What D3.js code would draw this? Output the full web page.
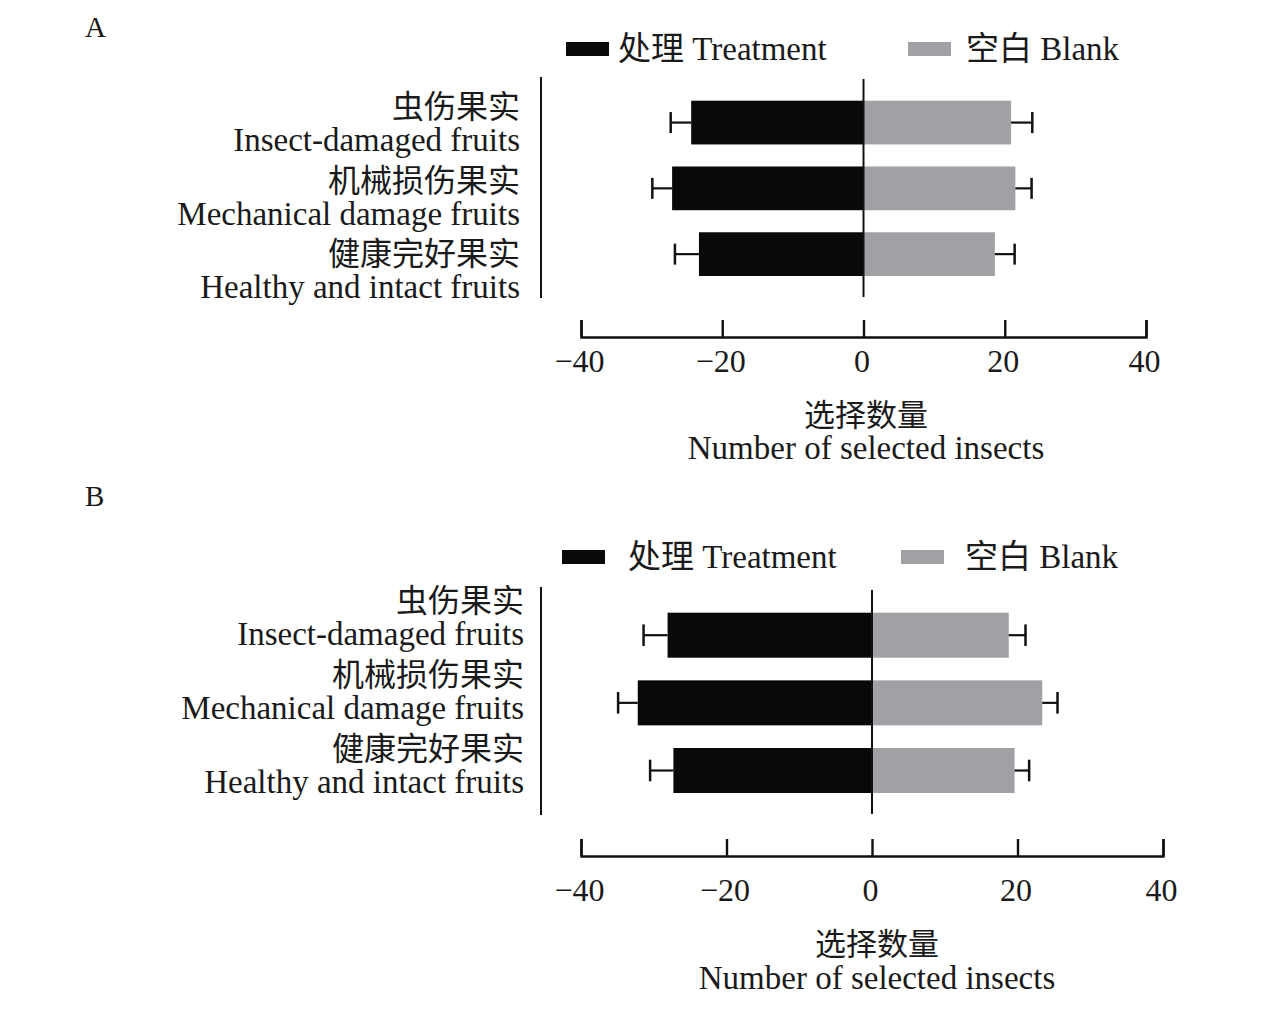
<!DOCTYPE html>
<html>
<head>
<meta charset="utf-8">
<script src="https://cdn.jsdelivr.net/npm/d3@7"></script>
<style>
  body { margin: 0; background: #fff; }
  svg text { font-family: "Liberation Serif", "Times New Roman", "Noto Sans CJK SC", serif; fill: #1a1a1a; }
</style>
</head>
<body>
<svg id="chart" width="1274" height="1010"></svg>
<script>
// categories (top to bottom)
var categoriesZh = ["虫伤果实", "机械损伤果实", "健康完好果实"];
var categoriesEn = ["Insect-damaged fruits", "Mechanical damage fruits", "Healthy and intact fruits"];
var xTicks = [-40, -20, 0, 20, 40];
var seriesNames = ["处理 Treatment", "空白 Blank"];

// panel A
var treatmentA = [-24.4, -27.1, -23.3];
var treatmentErrA = [2.9, 2.8, 3.4];
var blankA = [20.9, 21.5, 18.6];
var blankErrA = [3.0, 2.3, 2.8];

// panel B
var treatmentB = [-28.1, -32.2, -27.3];
var treatmentErrB = [3.3, 2.7, 3.2];
var blankB = [18.8, 23.4, 19.6];
var blankErrB = [2.3, 2.1, 2.0];

var colors = ["#0a0809", "#a2a0a4"];

var svg = d3.select("#chart");

function drawPanel(p) {
  var g = svg.append("g");

  var x = d3.scaleLinear().domain([-40, 40]).range([p.x0, p.x1]);
  var y = d3.scaleBand().domain(categoriesEn).range([p.barTop, p.barBottom]).paddingInner(0.335);
  var yLab = d3.scalePoint().domain(categoriesEn).range([p.labTop, p.labBottom]);

  // panel letter
  g.append("text").attr("x", 85).attr("y", p.letterY)
    .style("font-size", "29px").text(p.letter);

  // legend
  var leg = g.append("g");
  p.legend.forEach(function (l, i) {
    leg.append("rect").attr("x", l.rx).attr("y", p.legY - 8).attr("width", 43).attr("height", 14)
      .attr("fill", colors[i]);
    leg.append("text").attr("x", l.tx).attr("y", p.legY + 10)
      .style("font-size", "33px").text(seriesNames[i]);
  });

  // left line
  g.append("line").attr("x1", 541).attr("x2", 541).attr("y1", p.axTop).attr("y2", p.axBottom)
    .attr("stroke", "#111").attr("stroke-width", 2);

  var rows = categoriesEn.map(function (c, i) {
    return { cat: c, t: p.treat[i], te: p.treatErr[i], b: p.blank[i], be: p.blankErr[i] };
  });

  // bars
  g.selectAll(".tbar").data(rows).enter().append("rect")
    .attr("x", function (d) { return x(d.t); })
    .attr("y", function (d) { return y(d.cat); })
    .attr("width", function (d) { return x(0) - x(d.t); })
    .attr("height", y.bandwidth())
    .attr("fill", colors[0]);

  g.selectAll(".bbar").data(rows).enter().append("rect")
    .attr("x", x(0))
    .attr("y", function (d) { return y(d.cat); })
    .attr("width", function (d) { return x(d.b) - x(0); })
    .attr("height", y.bandwidth())
    .attr("fill", colors[1]);

  // error bars (outward only)
  var cap = y.bandwidth() * 0.24;
  rows.forEach(function (d) {
    var cy = y(d.cat) + y.bandwidth() / 2;
    [[d.t, d.t - d.te], [d.b, d.b + d.be]].forEach(function (e) {
      g.append("line").attr("x1", x(e[0])).attr("x2", x(e[1])).attr("y1", cy).attr("y2", cy)
        .attr("stroke", "#111").attr("stroke-width", 2.2);
      g.append("line").attr("x1", x(e[1])).attr("x2", x(e[1])).attr("y1", cy - cap).attr("y2", cy + cap)
        .attr("stroke", "#111").attr("stroke-width", 2.5);
    });
  });

  // zero line
  g.append("line").attr("x1", x(0)).attr("x2", x(0)).attr("y1", p.zeroTop).attr("y2", p.axBottom - 1)
    .attr("stroke", "#111").attr("stroke-width", 2);

  // category labels
  rows.forEach(function (d, i) {
    g.append("text").attr("x", p.labRight).attr("y", yLab(d.cat))
      .attr("text-anchor", "end").style("font-size", "32px").text(categoriesZh[i]);
    g.append("text").attr("x", p.labRight).attr("y", yLab(d.cat) + 33)
      .attr("text-anchor", "end").style("font-size", "33px").text(d.cat);
  });

  // x axis, ticks pointing up
  var ax = g.append("g").attr("transform", "translate(0," + p.axisY + ")")
    .call(d3.axisBottom(x).tickValues(xTicks).tickSize(-17).tickPadding(p.tickPad));
  ax.selectAll("path, line").attr("stroke", "#111").attr("stroke-width", 2.4);
  ax.selectAll("text").style("font-size", "32px")
    .style("font-family", '"Liberation Serif", serif').attr("fill", "#1a1a1a")
    .attr("dx", "-2");

  // axis title
  g.append("text").attr("x", p.titleX).attr("y", p.axisY + p.titleZhOff).attr("text-anchor", "middle")
    .style("font-size", "31px").text("选择数量");
  g.append("text").attr("x", p.titleX).attr("y", p.axisY + p.titleEnOff).attr("text-anchor", "middle")
    .style("font-size", "33px").text("Number of selected insects");
}

drawPanel({
  letter: "A", letterY: 37,
  x0: 581, x1: 1146,
  barTop: 100.7, barBottom: 276,
  labTop: 118, labBottom: 265, labRight: 520,
  axTop: 77, axBottom: 298, zeroTop: 79,
  axisY: 337, titleX: 866, tickPad: 12, titleZhOff: 89, titleEnOff: 122,
  legY: 50,
  legend: [{ rx: 566, tx: 618 }, { rx: 908, tx: 966 }],
  treat: treatmentA, treatErr: treatmentErrA, blank: blankA, blankErr: blankErrA
});

drawPanel({
  letter: "B", letterY: 506,
  x0: 581, x1: 1163,
  barTop: 612.7, barBottom: 793,
  labTop: 612, labBottom: 760, labRight: 524,
  axTop: 587, axBottom: 815, zeroTop: 590,
  axisY: 856, titleX: 877, tickPad: 22, titleZhOff: 99, titleEnOff: 133,
  legY: 558,
  legend: [{ rx: 562, tx: 628 }, { rx: 901, tx: 965 }],
  treat: treatmentB, treatErr: treatmentErrB, blank: blankB, blankErr: blankErrB
});
</script>
</body>
</html>
